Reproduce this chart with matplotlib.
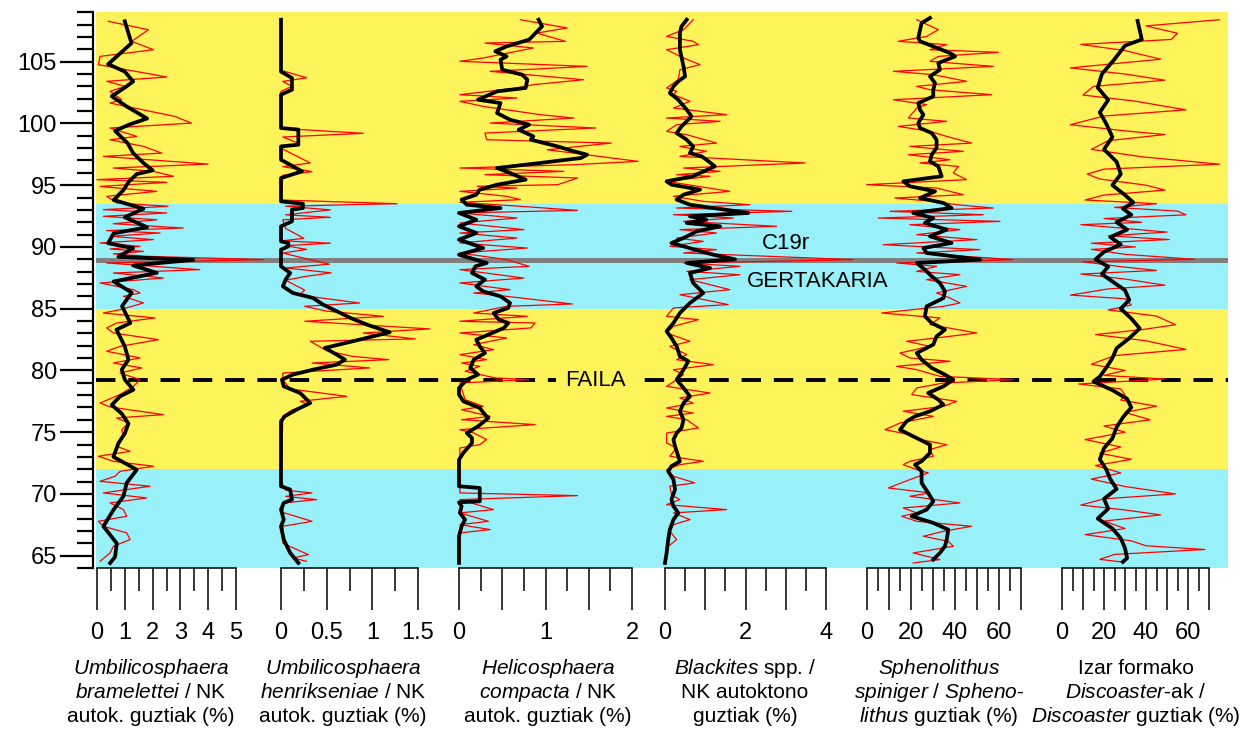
import numpy as np
import matplotlib
matplotlib.use('Agg')
import matplotlib.pyplot as plt

plt.rcParams['font.family'] = ['Liberation Sans', 'DejaVu Sans']
plt.rcParams['mathtext.fontset'] = 'custom'
plt.rcParams['mathtext.it'] = 'Liberation Sans:italic'
plt.rcParams['mathtext.rm'] = 'Liberation Sans'

W, H = 1256, 733
YELLOW = '#FFF35C'
CYAN = '#98F1F9'

# --- Umbilicosphaera bramelettei (%) ---
r1_depth = [108.27, 107.59, 106.65, 105.97, 105.43, 104.76, 103.76, 103.41, 103.0, 102.6, 101.92, 101.65,
            100.57, 100.03, 99.63, 98.95, 98.68, 98.14, 97.6, 97.33, 96.71, 96.39, 96.12, 95.72, 95.45,
            95.23, 94.9, 94.5, 94.1, 93.56, 93.29, 93.02, 92.75, 92.48, 92.2, 91.88, 91.53, 91.32, 91.13,
            90.86, 90.59, 90.32, 90.05, 89.83, 89.64, 89.43, 89.24, 88.97, 88.7, 88.16, 87.89, 87.48,
            87.08, 86.54, 86.27, 86.0, 85.46, 84.92, 84.65, 84.25, 83.84, 83.44, 83.03, 82.49, 81.95,
            81.55, 81.01, 80.6, 80.2, 79.79, 79.25, 78.71, 78.04, 77.36, 77.04, 76.42, 76.15, 75.74, 75.2,
            74.66, 73.85, 73.45, 73.05, 72.64, 72.24, 71.83, 71.43, 71.02, 70.62, 70.08, 69.67, 69.27,
            68.73, 68.19, 67.78, 67.38, 66.84, 66.3, 65.76, 65.22, 64.54]
r1_val = [0.41, 1.85, 1.25, 2.03, 0.11, 0.05, 2.51, 0.35, 1.01, 0.47, 0.89, 0.47, 2.8, 3.4, 0.47, 1.43,
          0.47, 1.67, 2.33, 0.23, 4.0, 0.59, 2.03, 2.75, 0.0, 2.51, 0.11, 2.15, 0.35, 0.71, 2.56, 0.23,
          2.51, 0.23, 2.15, 0.59, 3.1, 0.35, 2.27, 0.47, 2.03, 0.11, 1.55, 0.47, 1.67, 0.59, 1.79, 5.98,
          0.35, 3.7, 0.59, 2.39, 0.11, 1.31, 1.55, 0.95, 1.67, 0.83, 0.23, 2.09, 0.71, 0.35, 0.59, 2.21,
          0.83, 0.35, 1.55, 0.59, 1.61, 0.83, 1.55, 1.31, 0.83, 0.11, 0.47, 2.39, 0.71, 1.13, 0.89, 0.95,
          0.71, 1.19, 0.05, 0.59, 2.03, 0.83, 0.65, 0.11, 1.91, 0.23, 1.79, 0.47, 0.95, 1.07, 0.05, 0.23,
          1.07, 1.19, 0.59, 0.47, 0.11]
b1_depth = [108.27, 106.5, 105.3, 104.8, 104.2, 103.4, 102.9, 102.2, 101.4, 100.4, 99.9, 99.4, 98.4,
            97.6, 96.8, 96.2, 95.9, 95.3, 94.6, 93.8, 93.1, 92.4, 91.6, 91.1, 90.3, 89.9, 89.2, 88.95,
            88.5, 87.9, 87.2, 86.3, 85.2, 83.84, 83.3, 81.95, 80.87, 80.06, 79.25, 78.44, 77.9, 77.2,
            76.5, 75.7, 74.9, 74.1, 73.0, 71.96, 70.9, 69.8, 68.7, 67.37, 66.0, 64.9, 64.4]
b1_val = [1.0, 1.24, 0.65, 0.4, 1.0, 1.3, 1.0, 0.53, 1.05, 1.8, 1.15, 0.65, 1.1, 1.3, 1.67, 2.0, 1.43,
          1.15, 0.95, 0.6, 1.67, 1.0, 1.8, 0.6, 0.4, 1.3, 0.77, 3.46, 1.3, 2.15, 0.6, 1.25, 0.9, 1.2, 0.7,
          1.0, 1.13, 0.89, 1.0, 1.31, 0.83, 0.53, 0.89, 1.13, 1.0, 0.77, 0.59, 1.43, 1.07, 0.95, 0.59,
          0.23, 0.71, 0.65, 0.47]

# --- Umbilicosphaera henrikseniae (%) ---
r2_depth = [108.3, 104.3, 103.7, 103.4, 103.0, 102.6, 99.6, 99.2, 98.9, 98.4, 98.0, 96.8, 96.5, 96.1,
            95.8, 93.8, 93.5, 93.3, 93.0, 92.6, 92.4, 92.2, 91.5, 90.7, 90.5, 90.3, 90.1, 89.8, 89.5,
            88.6, 88.3, 87.9, 87.6, 87.3, 86.5, 86.1, 85.46, 85.19, 84.8, 84.38, 83.98, 83.36, 83.03,
            82.55, 82.36, 81.6, 81.14, 80.87, 80.6, 80.2, 79.79, 79.25, 78.5, 77.9, 77.5, 77.23, 76.8,
            76.28, 71.0, 70.3, 70.08, 69.8, 69.54, 69.27, 68.5, 67.78, 67.38, 66.0, 65.08, 64.81, 64.54]
r2_val = [0, 0, 0.28, 0.02, 0.12, 0, 0, 0.9, 0.02, 0.19, 0, 0.32, 0.02, 0.34, 0.02, 0, 1.27, 0.05, 0.54,
          0.05, 0.54, 0.02, 0.05, 0.25, 0.02, 0.54, 0.05, 0.28, 0.02, 0.53, 0.05, 0.55, 0.26, 0.05, 0.26,
          0.2, 0.86, 0.26, 0.5, 1.12, 0.26, 1.63, 0.9, 1.47, 0.32, 0.5, 0.78, 1.18, 0.34, 0.97, 0.02,
          0.02, 0.1, 0.72, 0.21, 0.3, 0.12, 0.02, 0, 0.05, 0.34, 0.05, 0.39, 0.03, 0.02, 0.34, 0.02,
          0.02, 0.3, 0.13, 0.28]
b2_depth = [108.4, 104.2, 103.68, 102.73, 102.33, 99.63, 99.5, 98.28, 98.14, 97.06, 96.12, 95.58, 93.69,
            93.5, 93.15, 93.02, 92.07, 91.67, 90.45, 90.32, 90.05, 89.78, 88.43, 87.89, 87.35, 86.81,
            86.27, 85.87, 85.33, 84.65, 84.25, 83.71, 83.09, 82.49, 81.82, 81.28, 80.87, 80.47, 80.06,
            79.66, 79.25, 78.71, 78.17, 77.36, 76.82, 76.28, 75.88, 70.62, 70.35, 69.54, 69.27, 68.73,
            67.92, 67.38, 66.3, 65.22, 64.41]
b2_val = [0, 0, 0.12, 0.12, 0, 0, 0.19, 0.19, 0, 0, 0.23, 0, 0, 0.24, 0.24, 0.12, 0.12, 0, 0, 0.08, 0.08,
          0, 0, 0.1, 0.05, 0.02, 0.13, 0.35, 0.46, 0.65, 0.76, 0.94, 1.19, 0.86, 0.48, 0.61, 0.7, 0.61,
          0.35, 0.13, 0.01, 0.03, 0.21, 0.32, 0.17, 0.04, 0, 0, 0.1, 0.12, 0.03, 0, 0.03, 0, 0.03, 0.1,
          0.19]

# --- Helicosphaera compacta (%) ---
r3_depth = [108.4, 107.73, 107.32, 106.65, 106.51, 106.11, 105.3, 105.03, 104.62, 104.22, 103.54,
            103.14, 102.87, 102.33, 102.06, 101.79, 101.38, 100.71, 100.44, 100.03, 99.63, 99.22, 98.68,
            98.41, 97.87, 96.93, 96.66, 96.39, 96.12, 95.85, 95.58, 95.04, 94.91, 94.77, 94.5, 94.1,
            93.83, 93.61, 93.29, 92.96, 92.75, 92.34, 91.94, 91.4, 91.13, 90.72, 90.32, 89.91, 89.51,
            88.97, 88.43, 88.16, 87.48, 87.08, 86.54, 86.27, 86.0, 85.38, 85.19, 84.65, 84.38, 83.98,
            83.84, 83.44, 83.03, 82.63, 82.09, 81.68, 81.28, 80.87, 80.6, 80.33, 79.93, 79.39, 79.25,
            78.98, 77.63, 77.09, 76.82, 76.28, 76.01, 75.61, 75.2, 74.93, 74.4, 73.99, 73.72, 70.08,
            69.86, 69.54, 68.73, 68.46, 67.78, 67.51, 67.11, 66.84, 64.41]
r3_val = [0.71, 1.25, 0.9, 1.23, 0.3, 0.86, 0.28, 0.01, 1.48, 0.36, 1.44, 0.86, 0.67, 0.01, 0.67, 0.01,
          0.28, 0.94, 1.33, 0.36, 1.58, 0.3, 0.32, 1.76, 1.02, 2.07, 1.33, 0.01, 1.21, 0.3, 1.37, 1.14,
          0.21, 0.67, 0.01, 0.55, 0.71, 0.01, 0.71, 1.37, 0.01, 0.67, 0.01, 0.75, 0.01, 0.67, 0.01, 0.79,
          0.01, 0.55, 0.81, 0.01, 0.75, 0.01, 0.59, 0.17, 0.55, 1.31, 0.55, 0.17, 0.79, 0.01, 0.88, 0.83,
          0.01, 0.55, 0.17, 0.4, 0.01, 0.32, 0.03, 0.24, 0.07, 0.42, 0.81, 0.01, 0.07, 0.28, 0.03, 0.36,
          0.03, 0.88, 0.01, 0.17, 0.32, 0.24, 0.01, 0.01, 1.37, 0.01, 0.4, 0.01, 0.34, 0.01, 0.36, 0.01,
          0.01]
b3_depth = [108.4, 107.86, 106.78, 106.24, 105.84, 105.43, 105.16, 104.35, 103.95, 103.54, 102.87,
            102.6, 101.92, 101.65, 100.84, 100.3, 99.9, 99.49, 98.95, 98.68, 98.14, 97.74, 97.47, 97.2,
            96.8, 96.39, 95.99, 95.45, 95.04, 94.64, 94.23, 93.83, 93.42, 93.15, 92.75, 92.2, 91.67,
            91.13, 90.59, 89.91, 89.37, 88.7, 88.43, 87.89, 87.35, 86.81, 86.4, 86.0, 85.46, 85.06, 84.65,
            84.11, 83.84, 83.44, 82.9, 82.49, 81.95, 81.41, 80.87, 80.2, 79.66, 79.25, 78.58, 78.04, 77.5,
            76.96, 76.42, 76.15, 75.47, 74.93, 74.53, 74.12, 73.32, 72.77, 70.62, 70.48, 69.4, 69.32,
            69.0, 68.46, 67.92, 67.38, 66.57, 64.41]
b3_val = [0.92, 0.96, 0.81, 0.55, 0.42, 0.55, 0.48, 0.5, 0.73, 0.79, 0.77, 0.44, 0.22, 0.48, 0.44, 0.59,
          0.81, 0.69, 0.86, 0.83, 1.14, 1.33, 1.48, 1.41, 0.94, 0.44, 0.59, 0.77, 0.44, 0.24, 0.2, 0.03,
          0.09, 0.48, 0, 0.2, 0, 0.2, 0, 0.28, 0, 0.32, 0.19, 0.15, 0.3, 0.2, 0.28, 0.48, 0.59, 0.57, 0.4,
          0.46, 0.57, 0.52, 0.34, 0.2, 0.24, 0.3, 0.17, 0.13, 0.22, 0.09, 0, 0, 0.05, 0.24, 0.3, 0.34,
          0.22, 0.09, 0.15, 0.15, 0.05, 0, 0, 0.24, 0.24, 0, 0.03, 0.01, 0.07, 0.03, 0, 0]

# --- Blackites spp. (%) ---
r4_depth = [108.4, 107.59, 107.05, 106.65, 106.38, 105.97, 105.3, 104.76, 104.35, 103.54, 102.87, 102.6,
            102.33, 101.79, 101.25, 100.71, 100.44, 100.17, 99.9, 99.36, 99.09, 98.41, 98.14, 97.74,
            97.33, 96.8, 96.39, 96.12, 95.85, 95.72, 95.31, 94.5, 94.1, 93.69, 93.42, 93.15, 92.88,
            92.61, 92.34, 92.07, 91.67, 91.4, 91.13, 90.72, 90.45, 90.05, 89.78, 89.51, 88.97, 88.7,
            88.43, 88.02, 87.75, 87.35, 86.54, 86.13, 85.33, 85.06, 84.38, 84.11, 83.57, 83.03, 82.36,
            81.95, 81.28, 80.87, 80.47, 80.06, 79.66, 79.25, 78.71, 78.17, 77.77, 77.36, 76.96, 76.55,
            76.28, 76.01, 75.34, 74.93, 74.12, 73.72, 73.05, 72.64, 72.37, 71.96, 71.43, 70.89, 70.62,
            69.94, 69.54, 69.13, 68.73, 68.46, 67.92, 67.51, 66.97, 66.3, 65.76, 64.95]
r4_val = [0.7, 0.46, 0.04, 0.7, 0.83, 0.04, 0.46, 0.87, 0.37, 0.33, 0.04, 0.29, 0.21, 0.62, 0.21, 1.53,
          0.04, 1.37, 0.29, 0.04, 0.54, 1.28, 0.37, 1.03, 0.37, 3.48, 0.46, 1.37, 0.29, 1.12, 0.04, 1.61,
          0.21, 0.95, 2.11, 0.29, 3.15, 0.21, 1.7, 0.46, 2.77, 0.37, 1.28, 0.29, 0.95, 0.12, 1.28, 0.46,
          4.68, 0.46, 1.86, 0.54, 1.86, 0.62, 1.61, 0.37, 1.57, 0.21, 0.04, 0.83, 0.21, 0.04, 0.62, 0.12,
          0.54, 0.29, 1.2, 0.21, 0.46, 0.29, 0.04, 1.12, 0.37, 0.7, 0.04, 0.7, 0.04, 0.54, 0.83, 0.04,
          0.04, 0.29, 0.12, 0.95, 0.37, 0.04, 0.21, 0.74, 0.12, 0.16, 0.37, 0.04, 1.53, 0.21, 0.62, 0.21,
          0.12, 0.29, 0.08, 0.04]
b4_depth = [108.4, 107.86, 107.32, 105.97, 104.62, 103.81, 103.41, 103.0, 102.46, 101.92, 101.11,
            100.57, 99.76, 99.22, 98.68, 98.14, 97.6, 97.33, 97.06, 96.52, 95.99, 95.72, 95.31, 95.04,
            94.64, 94.23, 93.83, 93.42, 93.15, 92.75, 92.48, 92.2, 91.94, 91.67, 91.26, 90.72, 90.32,
            90.05, 89.78, 89.37, 89.0, 88.7, 88.29, 87.89, 87.08, 86.27, 85.46, 84.65, 83.84, 83.17,
            82.63, 81.95, 81.14, 80.74, 80.06, 79.25, 78.58, 77.9, 77.36, 76.69, 76.01, 75.34, 74.93,
            74.4, 73.85, 73.05, 72.64, 72.24, 71.83, 71.16, 70.35, 69.54, 69.0, 68.46, 67.92, 67.11,
            66.3, 65.22, 64.41]
b4_val = [0.54, 0.41, 0.37, 0.37, 0.46, 0.5, 0.33, 0.21, 0.12, 0.33, 0.54, 0.66, 0.41, 0.29, 0.54, 0.7,
          0.62, 0.91, 1.03, 1.24, 0.87, 0.7, 0.04, 0.16, 0.87, 0.46, 0.29, 0.62, 1.2, 2.07, 0.62, 1.03,
          0.54, 1.37, 0.79, 0.46, 0.16, 0.46, 0.74, 1.2, 1.74, 0.54, 1.12, 0.62, 0.7, 0.95, 0.62, 0.37,
          0.21, 0.04, 0.16, 0.29, 0.37, 0.58, 0.46, 0.29, 0.46, 0.62, 0.46, 0.37, 0.46, 0.41, 0.29, 0.21,
          0.25, 0.33, 0.37, 0.16, 0.08, 0.21, 0.25, 0.16, 0.21, 0.33, 0.21, 0.12, 0.08, 0.04, 0.0]

# --- Sphenolithus spiniger (%) ---
r5_depth = [108.4, 107.59, 107.05, 106.65, 106.38, 105.97, 105.76, 105.43, 105.03, 104.62, 104.22,
            103.95, 103.41, 103.0, 102.73, 102.33, 101.92, 101.52, 101.25, 100.44, 100.17, 99.76, 99.36,
            98.95, 98.41, 98.14, 97.74, 97.47, 97.06, 96.8, 96.52, 95.99, 95.45, 95.04, 94.77, 94.23,
            93.96, 93.69, 93.42, 93.15, 92.88, 92.61, 92.34, 92.07, 91.8, 91.4, 90.99, 90.59, 90.18,
            89.78, 89.51, 88.97, 88.7, 88.43, 88.02, 87.75, 87.35, 86.81, 86.27, 85.86, 85.46, 85.19,
            84.65, 84.25, 83.71, 83.03, 82.63, 82.36, 81.95, 81.41, 81.01, 80.74, 80.33, 80.06, 79.52,
            79.25, 78.98, 78.58, 78.04, 77.5, 77.09, 76.69, 76.28, 75.74, 75.2, 74.8, 74.4, 73.99, 73.59,
            73.05, 72.64, 72.37, 71.96, 71.7, 71.16, 70.48, 70.08, 69.81, 69.27, 68.86, 68.46, 68.19,
            67.78, 67.38, 66.97, 66.57, 66.16, 65.76, 65.22, 64.68, 64.41]
r5_val = [22.7, 32.5, 27.2, 14.3, 36.3, 28.7, 59.7, 32.5, 28.7, 57.4, 12.1, 30.2, 45.3, 22.7, 28.7, 56.7,
          12.1, 27.2, 22.7, 18.9, 36.3, 14.3, 28.7, 36.3, 47.6, 19.6, 43.8, 18.9, 37.8, 24.2, 41.6, 39.3,
          45.3, 0.0, 31.7, 43.8, 12.8, 30.2, 40.8, 57.4, 10.6, 52.9, 5.3, 60.5, 19.6, 42.3, 22.7, 49.9,
          7.5, 51.4, 22.7, 66.5, 13.6, 31.7, 22.7, 42.3, 27.2, 45.3, 31.7, 37.8, 42.3, 34.8, 6.8, 33.2,
          28.7, 49.9, 31.7, 18.1, 28.7, 15.1, 19.6, 37.8, 13.6, 22.7, 33.2, 66.5, 34.8, 22.7, 20.4, 40.8,
          34.8, 16.6, 30.2, 15.1, 8.3, 19.6, 24.2, 36.3, 28.7, 30.2, 19.6, 16.6, 22.7, 27.9, 19.6, 9.8,
          28.7, 19.6, 42.3, 16.6, 22.7, 15.9, 22.7, 47.6, 34.8, 25.7, 37.0, 39.3, 21.1, 33.2, 21.1]
b5_depth = [108.54, 108.13, 106.92, 106.65, 106.24, 105.7, 105.43, 104.89, 104.35, 103.81, 103.27,
            102.73, 102.19, 101.65, 101.11, 100.71, 100.03, 99.63, 99.22, 98.68, 98.01, 97.47, 96.93,
            96.52, 95.72, 95.31, 94.91, 94.5, 93.96, 93.56, 93.15, 92.75, 92.34, 91.94, 91.4, 90.86,
            90.32, 89.91, 89.51, 88.97, 88.7, 88.16, 87.62, 87.08, 86.4, 85.86, 85.19, 84.38, 83.84, 83.3,
            82.76, 82.09, 81.41, 80.87, 80.2, 79.66, 79.25, 78.71, 78.17, 77.63, 77.23, 76.69, 76.28,
            75.88, 75.2, 74.66, 73.99, 73.32, 72.64, 72.37, 71.83, 70.89, 70.08, 69.4, 68.73, 68.19,
            67.65, 67.11, 66.3, 65.76, 65.22, 64.68]
b5_val = [28.7, 24.9, 23.4, 24.2, 30.2, 37.8, 40.1, 32.5, 33.2, 28.7, 31.0, 30.2, 30.2, 23.4, 24.2, 25.7,
          23.4, 24.2, 29.5, 31.7, 31.7, 29.5, 28.7, 32.5, 34.0, 16.6, 19.6, 31.0, 24.2, 34.8, 38.5, 21.1,
          30.2, 26.4, 36.3, 28.7, 38.5, 25.7, 27.2, 51.4, 22.7, 26.4, 29.5, 33.2, 35.5, 34.8, 27.2, 26.4,
          29.5, 35.5, 31.7, 30.2, 22.7, 24.9, 29.5, 35.5, 39.3, 34.8, 27.9, 32.5, 34.8, 28.7, 21.9, 18.1,
          15.1, 21.1, 28.7, 28.7, 24.9, 21.9, 24.9, 24.9, 27.9, 30.2, 27.2, 20.4, 30.2, 37.0, 36.3, 35.5,
          33.2, 30.2]

# --- star-shaped Discoaster (%) ---
r6_depth = [108.4, 107.9, 107.3, 106.8, 106.4, 105.9, 105.2, 104.5, 104.0, 103.5, 103.0, 102.3, 101.8,
            101.1, 100.6, 99.9, 99.4, 99.1, 98.6, 97.9, 97.3, 96.7, 96.3, 95.9, 95.5, 95.0, 94.6, 94.2,
            93.8, 93.5, 93.2, 92.9, 92.6, 92.3, 92.0, 91.8, 91.5, 91.2, 90.9, 90.6, 90.3, 90.0, 89.8,
            89.4, 89.0, 88.8, 88.4, 88.1, 87.8, 87.4, 86.9, 86.6, 86.1, 85.8, 85.3, 84.9, 84.4, 83.7,
            83.3, 82.9, 82.4, 81.7, 81.2, 80.5, 80.0, 79.6, 79.3, 78.9, 78.5, 78.0, 77.6, 77.1, 76.6,
            76.0, 75.5, 75.0, 74.4, 73.8, 73.3, 72.8, 72.3, 71.7, 71.2, 70.6, 70.0, 69.6, 69.1, 68.7,
            68.3, 67.8, 67.2, 66.7, 66.2, 65.8, 65.5, 65.1, 64.7, 64.5]
r6_val = [75, 40, 55, 52, 9, 30, 47, 4, 30, 49, 15, 10, 35, 59, 20, 4, 30, 49, 22, 14, 38, 75, 20, 12, 18,
          40, 49, 20, 11, 45, 25, 55, 59, 20, 38, 9, 30, 50, 22, 51, 14, 35, 14, 30, 63, 10, 28, 45, 9, 30,
          49, 22, 4, 30, 33, 22, 45, 54, 38, 16, 40, 59, 25, 14, 30, 20, 49, 8, 28, 30, 28, 45, 30, 42,
          20, 30, 11, 28, 18, 33, 16, 28, 14, 30, 54, 20, 9, 30, 47, 20, 30, 11, 33, 40, 68, 25, 18, 28]
b6_depth = [108.3, 106.8, 106.3, 105.2, 104.0, 102.9, 101.9, 100.9, 100.0, 98.9, 97.9, 96.9, 95.9, 95.0,
            94.2, 93.6, 93.1, 92.6, 92.0, 91.4, 90.8, 90.2, 89.6, 89.0, 88.4, 87.8, 87.2, 86.5, 85.7,
            85.0, 84.2, 83.4, 82.6, 81.8, 81.0, 80.2, 79.5, 79.1, 78.4, 77.7, 77.0, 76.2, 75.4, 74.5,
            73.7, 72.8, 72.0, 71.2, 70.4, 69.6, 68.8, 68.0, 67.2, 66.4, 65.6, 64.8, 64.5]
b6_val = [36, 38, 30, 25, 19, 17, 22, 18, 21, 24, 20, 26, 28, 24, 30, 34, 29, 33, 26, 31, 23, 28, 20, 16,
          22, 19, 24, 30, 32, 28, 33, 37, 32, 26, 24, 21, 18, 15, 24, 31, 33, 29, 26, 24, 20, 18, 21, 23,
          26, 20, 22, 17, 24, 28, 30, 31, 29]

titles = [
    ["$\\mathit{Umbilicosphaera}$", "$\\mathit{bramelettei}$ / NK", "autok. guztiak (%)"],
    ["$\\mathit{Umbilicosphaera}$", "$\\mathit{henrikseniae}$ / NK", "autok. guztiak (%)"],
    ["$\\mathit{Helicosphaera}$", "$\\mathit{compacta}$ / NK", "autok. guztiak (%)"],
    ["$\\mathit{Blackites}$ spp. /", "NK autoktono", "guztiak (%)"],
    ["$\\mathit{Sphenolithus}$", "$\\mathit{spiniger}$ / $\\mathit{Spheno}$-", "$\\mathit{lithus}$ guztiak (%)"],
    ["Izar formako", "$\\mathit{Discoaster}$-ak /", "$\\mathit{Discoaster}$ guztiak (%)"],
]
tick_labels = [
    ['0', '1', '2', '3', '4', '5'],
    ['0', '0.5', '1', '1.5'],
    ['0', '', '1', '', '2'],
    ['0', '', '2', '', '4'],
    ['0', '', '20', '', '40', '', '60', ''],
    ['0', '', '20', '', '40', '', '60', ''],
]

# pixel of zero, pixel of max, axis max, major step, minor step, title centre
layout = [
    (97, 236, 5, 1, 0.5, 151),
    (281, 418, 1.5, 0.5, 0.25, 343),
    (459, 632, 2, 0.5, 0.25, 548),
    (665, 826, 4, 1, 0.5, 745),
    (866.7, 1021, 70, 10, 5, 939),
    (1062, 1209, 70, 10, 5, 1136),
]
series = [
    (r1_depth, r1_val, b1_depth, b1_val),
    (r2_depth, r2_val, b2_depth, b2_val),
    (r3_depth, r3_val, b3_depth, b3_val),
    (r4_depth, r4_val, b4_depth, b4_val),
    (r5_depth, r5_val, b5_depth, b5_val),
    (r6_depth, r6_val, b6_depth, b6_val),
]

TOP, BOTTOM = 12.3, 568
YMIN, YMAX = 64, 109


def px_box(left, right):
    return [left / W, 1 - BOTTOM / H, (right - left) / W, (BOTTOM - TOP) / H]


fig = plt.figure(figsize=(W / 100, H / 100), dpi=100)

# background bands and depth axis
bg = fig.add_axes(px_box(96, 1228))
bg.set_xlim(96, 1228)
bg.set_ylim(YMIN, YMAX)
bg.axhspan(64, 72.05, color=CYAN, lw=0)
bg.axhspan(72.05, 85.0, color=YELLOW, lw=0)
bg.axhspan(85.0, 93.45, color=CYAN, lw=0)
bg.axhspan(93.45, 109, color=YELLOW, lw=0)
bg.axhline(88.97, color='#808080', lw=3.6)
bg.axhline(79.2, color='black', lw=2.8, ls=(0, (5, 3.3)))
for sp in ('right', 'top', 'bottom'):
    bg.spines[sp].set_visible(False)
bg.spines['left'].set_position(('outward', 2.2))
bg.spines['left'].set_linewidth(1.6)
bg.set_xticks([])
bg.set_yticks(np.arange(65, 106, 5))
bg.set_yticks(np.arange(64, 110, 1), minor=True)
bg.tick_params(axis='y', which='major', length=24, width=1.6, pad=2, labelsize=17)
bg.tick_params(axis='y', which='minor', length=11.5, width=1.6)

bg.text(786, 88.97 + 1.3, 'C19r', ha='center', va='center', fontsize=16)
bg.text(818, 88.97 - 1.75, 'GERTAKARIA', ha='center', va='center', fontsize=16)
bg.text(595, 79.2, 'FAILA', ha='center', va='center', fontsize=16,
        bbox=dict(facecolor=YELLOW, edgecolor='none', pad=6))

for (p0, pmax, xmax, major, minor, cx), (rd, rv, bd, bv), labels, ttl in zip(layout, series, tick_labels, titles):
    s = (pmax - p0) / xmax
    ax = fig.add_axes(px_box(p0 - 8, pmax + 8))
    ax.set_xlim(-8 / s, xmax + 8 / s)
    ax.set_ylim(YMIN, YMAX)
    ax.patch.set_alpha(0)
    for sp in ('left', 'right', 'top'):
        ax.spines[sp].set_visible(False)
    ax.spines['bottom'].set_bounds(0, xmax)
    ax.spines['bottom'].set_linewidth(1.1)
    ax.set_yticks([])
    ax.set_xticks(np.arange(0, xmax + 1e-9, major))
    ax.set_xticklabels(labels)
    ax.set_xticks(np.arange(0, xmax + 1e-9, minor), minor=True)
    ax.tick_params(axis='x', which='major', length=30, width=1.1, pad=9, labelsize=17)
    ax.tick_params(axis='x', which='minor', length=16.5, width=1.1)

    ax.plot(rv, rd, color='#FF0000', lw=0.9, clip_on=False)
    ax.plot(bv, bd, color='black', lw=2.7, clip_on=False, solid_joinstyle='round')

    for line, y in zip(ttl, (668, 692, 716)):
        fig.text(cx / W, 1 - y / H, line, ha='center', va='center', fontsize=15)

fig.savefig('out.png', dpi=100)
